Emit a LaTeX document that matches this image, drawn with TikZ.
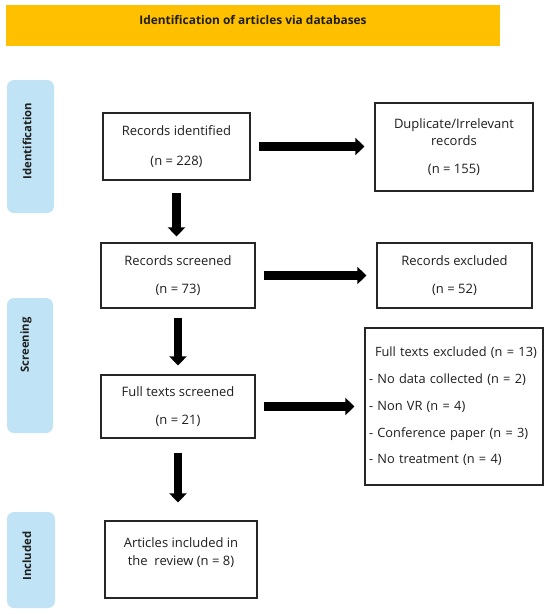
\documentclass[tikz,border=0pt]{standalone}
\usepackage{fontspec}
\setmainfont{Open Sans}
\usetikzlibrary{arrows.meta}
\definecolor{banner}{RGB}{255,192,0}
\definecolor{tabblue}{RGB}{192,228,246}
\definecolor{ink}{RGB}{30,30,30}
\begin{document}
\begin{tikzpicture}[x=1pt,y=-1pt,
  box/.style={draw=black!85,line width=1.2pt,fill=white,align=center,text=ink,inner sep=0pt},
  tab/.style={fill=tabblue,rounded corners=7pt,inner sep=0pt},
  tablabel/.style={rotate=90,text=ink,font=\bfseries\fontsize{11.3}{13}\selectfont},
  bigarrow/.style={line width=8.5pt,-{Triangle[width=17pt,length=9pt]}}]
\useasboundingbox (0,0) rectangle (550,614);
\fill[white] (0,0) rectangle (550,614);
% banner
\node[fill=banner,minimum width=494pt,minimum height=41pt,inner sep=0pt] (ban) at (253,25.5) {};
\node[text=ink,font=\bfseries\fontsize{11.9}{13}\selectfont] (bantext) at (253,20.5) {Identification of articles via databases};
% tabs
\node[tab,minimum width=47pt,minimum height=133pt] (tid) at (30.5,146.5) {};
\node[tablabel] (tidl) at (27,141) {Identification};
\node[tab,minimum width=46pt,minimum height=135pt] (tsc) at (30,365.5) {};
\node[tablabel] (tscl) at (26,345) {Screening};
\node[tab,minimum width=48pt,minimum height=96pt] (tin) at (31,560) {};
\node[tablabel] (tinl) at (27,556) {Included};
% boxes
\node[box,minimum width=147pt,minimum height=67pt,font=\fontsize{13}{30}\selectfont] (ri) at (176.5,146.5) {Records identified\\(n = 228)};
\node[box,minimum width=158pt,minimum height=88pt,font=\fontsize{13}{17}\selectfont] (dup) at (454,147) {Duplicate/Irrelevant\\records\\[11pt](n = 155)};
\node[box,minimum width=154pt,minimum height=65pt,font=\fontsize{13}{28}\selectfont] (rs) at (178,275.5) {Records screened\\(n = 73)};
\node[box,minimum width=155pt,minimum height=65pt,font=\fontsize{13}{28}\selectfont] (re) at (454.5,275.5) {Records excluded\\(n = 52)};
\node[box,minimum width=154pt,minimum height=63pt,font=\fontsize{13}{28}\selectfont] (fs) at (178,406.5) {Full texts screened\\(n = 21)};
\node[box,minimum width=178pt,minimum height=157pt,align=left,text width=170pt,inner xsep=4pt,font=\fontsize{12.8}{26.75}\selectfont] (fe) at (454,406.5) {\mbox{\hspace*{6pt}Full texts excluded (n = 13)}\\\mbox{- No data collected (n = 2)}\\\mbox{- Non VR (n = 4)}\\\mbox{- Conference paper (n = 3)}\\\mbox{- No treatment (n = 4)}\\[9pt]};
\node[box,minimum width=152pt,minimum height=77pt,font=\fontsize{13}{18}\selectfont] (ar) at (181,559.5) {Articles included in\\the\ \ review (n = 8)\\[-3pt]};
% arrows
\draw[bigarrow,shorten <=12pt,shorten >=6pt] (ri.south) -- (ri.south |- rs.north);
\draw[bigarrow,shorten <=9pt,shorten >=9pt] (rs.south) -- (rs.south |- fs.north);
\draw[bigarrow,shorten <=14pt,shorten >=18pt] (fs.south) -- (fs.south |- ar.north);
\draw[bigarrow,shorten <=8pt,shorten >=10pt] (ri.east) -- (ri.east -| dup.west);
\draw[bigarrow,shorten <=8pt,shorten >=10pt] (rs.east) -- (rs.east -| re.west);
\draw[bigarrow,shorten <=8pt,shorten >=10pt] (fs.east) -- (fs.east -| fe.west);
\end{tikzpicture}
\end{document}
